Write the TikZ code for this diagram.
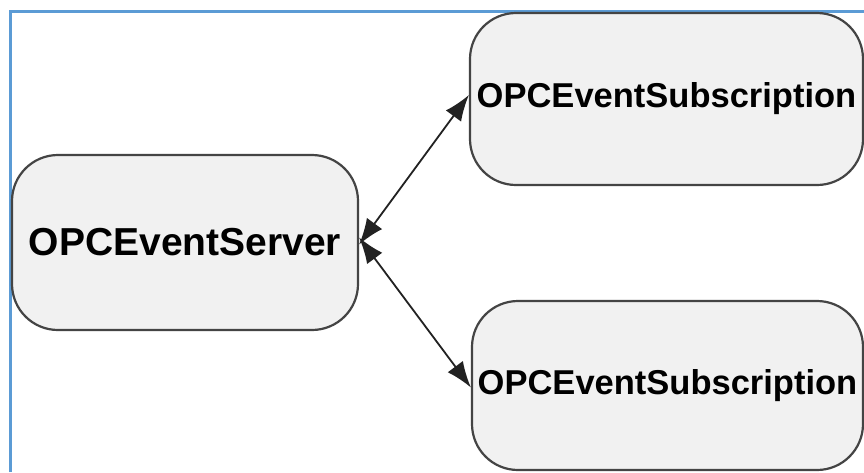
\documentclass[tikz,border=0pt]{standalone}
\usepackage{fontspec}
\setmainfont{Liberation Sans}
\usetikzlibrary{arrows.meta}
\definecolor{frameblue}{HTML}{5B9BD5}
\definecolor{boxfill}{HTML}{F1F1F1}
\definecolor{boxline}{HTML}{444444}
\definecolor{linkline}{HTML}{222222}
\tikzset{
  classbox/.style={draw=boxline, line width=2.2pt, fill=boxfill, rounded corners=46pt,
    inner sep=0pt, font=\bfseries\fontsize{34.5}{36}\selectfont},
  link/.style={draw=linkline, line width=1.8pt,
    {Latex[length=26pt,width=19pt]}-{Latex[length=26pt,width=19pt]}}
}
\begin{document}
\begin{tikzpicture}[x=1pt,y=-1pt]
  \useasboundingbox (0,0) rectangle (864,472);
  \fill[white] (0,0) rectangle (864,472);
  % outer frame (top and left edges)
  \draw[frameblue, line width=2.6pt] (10.5,472) -- (10.5,11.5) -- (864,11.5);
  % class boxes
  \node[classbox, minimum width=346pt, minimum height=175pt,
        font=\bfseries\fontsize{39}{41}\selectfont] (server) at (185,242.5) {OPCEventServer};
  \node[classbox, minimum width=393pt, minimum height=172pt] (subA) at (666.5,99) {OPCEventSubscription};
  \node[classbox, minimum width=391pt, minimum height=169pt] (subB) at (667.5,385.5) {OPCEventSubscription};
  % associations
  \draw[link] ([yshift=-2pt]server.east) -- ([yshift=4pt]subA.west);
  \draw[link] ([yshift=5pt]server.east) -- ([yshift=-2pt]subB.west);
\end{tikzpicture}
\end{document}
